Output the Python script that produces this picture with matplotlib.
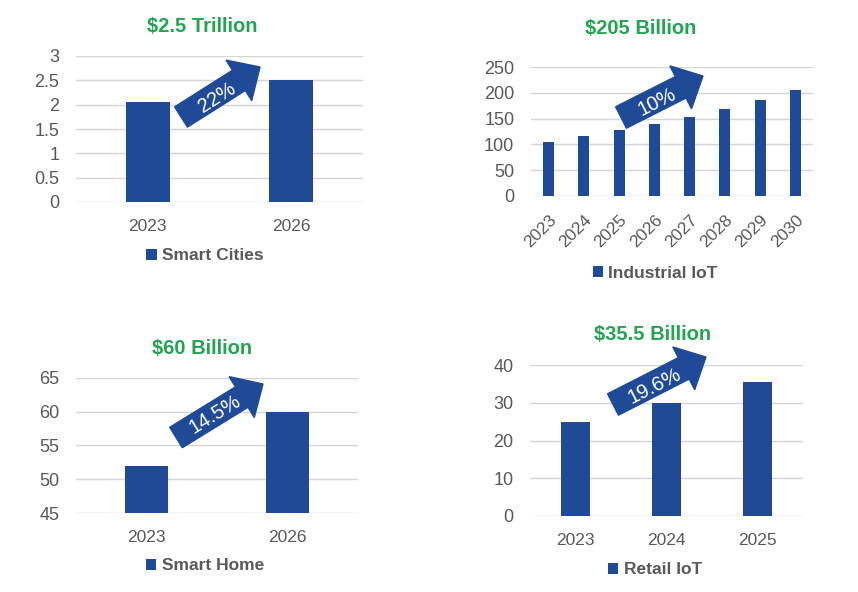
import math
import matplotlib
matplotlib.use("Agg")
import matplotlib.pyplot as plt
from matplotlib.patches import FancyArrow
from matplotlib.transforms import Affine2D
from matplotlib.ticker import FuncFormatter

plt.rcParams['font.family'] = ['Liberation Sans', 'DejaVu Sans']

# data
city_years = ["2023", "2026"]
city_values = [2.05, 2.5]
iiot_years = ["2023", "2024", "2025", "2026", "2027", "2028", "2029", "2030"]
iiot_values = [105, 116, 127, 140, 154, 169, 186, 205]
home_years = ["2023", "2026"]
home_values = [52, 60]
retail_years = ["2023", "2024", "2025"]
retail_values = [25, 30, 35.5]

BAR = "#1e4a98"
GREEN = "#21a550"
GREY = "#595959"
GRID = "#d4d4d4"
W, H = 858, 592

fig = plt.figure(figsize=(W / 100, H / 100), dpi=100)
fig.patch.set_facecolor("white")
# image pixel coords (y down) -> display
px = Affine2D().scale(1 / 100, -1 / 100).translate(0, H / 100) + fig.dpi_scale_trans


def make_axes(left, top, right, bottom):
    return fig.add_axes([left / W, (H - bottom) / H, (right - left) / W, (bottom - top) / H])


def panel(box, cats, vals, ylim, step, label, title, title_xy, legend_xy, rot=0):
    ax = make_axes(*box)
    bars = ax.bar(range(len(cats)), vals, width=0.31, color=BAR, label=label, zorder=3)
    ax.set_xlim(-0.5, len(cats) - 0.5)
    ax.set_ylim(*ylim)
    ticks = []
    t = ylim[0]
    while t <= ylim[1] + 1e-9:
        ticks.append(t)
        t += step
    ax.set_yticks(ticks)
    ax.yaxis.set_major_formatter(FuncFormatter(lambda v, p: f"{v:g}"))
    ax.set_xticks(range(len(cats)))
    if rot:
        ax.set_xticklabels(cats, rotation=rot, ha="right", rotation_mode="anchor")
    else:
        ax.set_xticklabels(cats)
    ax.tick_params(length=0, labelsize=12.5, labelcolor=GREY, pad=12)
    ax.tick_params(axis="y", pad=12, labelsize=13)
    ax.grid(axis="y", color=GRID, linewidth=1, zorder=0)
    for s in ax.spines.values():
        s.set_visible(False)
    fig.text(title_xy[0], title_xy[1], title, transform=px, ha="center", va="center",
             fontsize=14.5, fontweight="bold", color=GREEN)
    leg = ax.legend(handles=[bars], loc="center", bbox_to_anchor=legend_xy, bbox_transform=px,
                    frameon=False, handlelength=0.6, handleheight=0.6, handletextpad=0.3,
                    prop={"weight": "bold", "size": 12.5})
    for txt in leg.get_texts():
        txt.set_color(GREY)
    return ax


def growth_arrow(tail, tip, text, text_xy):
    dx, dy = tip[0] - tail[0], tip[1] - tail[1]
    arr = FancyArrow(tail[0], tail[1], dx, dy, width=24, head_width=48, head_length=25,
                     length_includes_head=True, color=BAR, transform=px, zorder=5)
    fig.add_artist(arr)
    ang = math.degrees(math.atan2(-dy, dx))
    fig.text(text_xy[0], text_xy[1], text, transform=px, ha="center", va="center",
             rotation=ang, rotation_mode="anchor", fontsize=14.5, color="white", zorder=6)


panel((76, 56, 363, 202), city_years, city_values, (0, 3), 0.5, "Smart Cities",
      "$2.5 Trillion", (202, 26), (205, 256))
panel((531, 67, 813, 196), iiot_years, iiot_values, (0, 250), 50, "Industrial IoT",
      "$205 Billion", (641, 28), (655, 273), rot=45)
panel((76, 378, 358, 513), home_years, home_values, (45, 65), 5, "Smart Home",
      "$60 Billion", (202, 348), (205, 566))
panel((530, 365, 803, 516), retail_years, retail_values, (0, 40), 10, "Retail IoT",
      "$35.5 Billion", (653, 335), (655, 570))

growth_arrow((181, 117), (260, 67), "22%", (217, 98))
growth_arrow((621, 117.5), (703, 76), "10%", (657, 102))
growth_arrow((176, 437.5), (263, 384), "14.5%", (215, 414))
growth_arrow((613, 404.5), (706, 357), "19.6%", (654, 386))

fig.savefig("out.png", dpi=100, facecolor="white")
